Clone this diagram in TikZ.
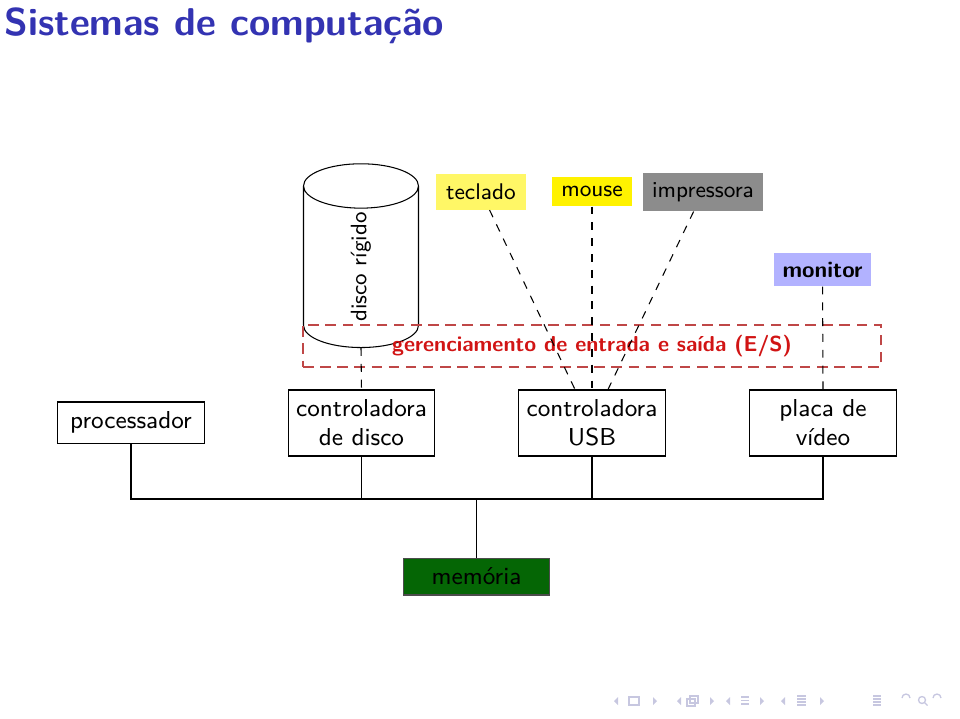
\documentclass[tikz,border=0pt]{standalone}
\usepackage{fontspec}
\usetikzlibrary{shapes.geometric,positioning,calc}
\definecolor{titleblue}{rgb}{0.2,0.2,0.7}
\definecolor{esred}{rgb}{0.82,0.08,0.08}
\definecolor{esdash}{rgb}{0.75,0.28,0.28}
\definecolor{memgreen}{rgb}{0.02,0.40,0.02}
\definecolor{navgray}{rgb}{0.78,0.78,0.88}

\begin{document}
\begin{tikzpicture}
	[x=0.13333mm, y=-0.13333mm, font=\sffamily, inner sep=0pt,
	unit/.style	= {rectangle,draw,inner sep=0pt,minimum width=19.5mm,minimum height=8.8mm,align=center,font=\sffamily\fontsize{9.3}{11}\selectfont},
	device/.style	= {rectangle,inner sep=0pt,font=\sffamily\fontsize{8.6}{10}\selectfont},
	storage/.style	= {cylinder,draw,rotate=90,aspect=2.2,inner sep=0pt,minimum height=24.5mm,minimum width=15.33mm,font=\sffamily\fontsize{8.5}{10}\selectfont},
	esbox/.style	= {rectangle,draw=esdash,dash pattern=on 4pt off 2.5pt,minimum width=77.07mm,minimum height=5.6mm,text=esred,font=\sffamily\bfseries\fontsize{8.2}{10}\selectfont},
	link/.style	= {dashed},
	navsym/.style	= {draw=navgray, line width=0.5pt}]

	\useasboundingbox (0,0) rectangle (960,718);

	\node at (4,35)			[anchor=base west,text=titleblue,font=\sffamily\bfseries\fontsize{14.7}{18}\selectfont]	(title)	{Sistemas de computação};

	\node at (361,267)		[storage]	(disk)		{disco rígido};
	\node at (481,192)		[device, fill=yellow!60, minimum width=12mm, minimum height=4.67mm]	(teclado)	{teclado};
	\node at (592,191.5)	[device, fill=yellow, minimum width=10.67mm, minimum height=3.87mm]	(mouse)		{mouse};
	\node at (703,192)		[device, fill=black!45, minimum width=16mm, minimum height=5.07mm]	(impressora)	{impressora};
	\node at (822.5,269.5)	[device, fill=blue!30, minimum width=12.93mm, minimum height=4.4mm, font=\sffamily\bfseries\fontsize{8.6}{10}\selectfont]	(monitor)	{monitor};

	\node at (592,346)		[esbox]		(es)	{gerenciamento de entrada e saída (E/S)};

	\node at (131,422.5)	[unit, minimum height=5.47mm]	(proc)	{processador};
	\node at (361.5,423)	[unit]		(cdisk)	{controladora\\de disco};
	\node at (592,423)		[unit]		(usb)	{controladora\\USB};
	\node at (823,423)		[unit]		(video)	{placa de\\vídeo};
	\node at (476.5,576.5)	[unit, fill=memgreen, draw=black!70, minimum height=4.93mm]	(mem)	{memória};

	\coordinate (bus) at (476.5,499);

	% barramento
	\draw (proc.south) |- (bus) -| (video.south);
	\draw (cdisk.south) -- (cdisk.south |- bus);
	\draw (usb.south) -- (usb.south |- bus);
	\draw (mem.north) -- (mem.north |- bus);

	% dispositivos
	\draw [link] (disk.bottom) -- (cdisk.north);
	\draw [link] (teclado) -- ($(usb.north)+(-17,0)$);
	\draw [link] (mouse) -- (usb.north);
	\draw [link] (impressora) -- ($(usb.north)+(16,0)$);
	\draw [link] (monitor) -- (video.north);

	% simbolos de navegacao
	\foreach \l/\r in {615/656, 678/713, 727/763, 782/823} {
		\fill [navgray] (\l+3,697) -- (\l-1,701) -- (\l+3,705) -- cycle;
		\fill [navgray] (\r-3,697) -- (\r+1,701) -- (\r-3,705) -- cycle;
	}
	\draw [navsym] (629,697) rectangle (639,705);
	\draw [navsym] (687,699) rectangle (695,706);
	\draw [navsym] (690,696) rectangle (698,703);
	\foreach \yy in {697,700.5,704} \draw [navsym] (741,\yy) -- (749,\yy);
	\foreach \yy in {696,699,702,705} \draw [navsym] (797,\yy) -- (806,\yy);
	\foreach \yy in {696,699,702,705} \draw [navsym] (873,\yy) -- (881,\yy);
	\draw [navsym] (902,698) arc (180:360:4);
	\draw [navsym] (922,700) circle (3.5);
	\draw [navsym] (924.5,702.5) -- (927.5,705.5);
	\draw [navsym] (941,698) arc (0:-180:4);
\end{tikzpicture}
\end{document}
